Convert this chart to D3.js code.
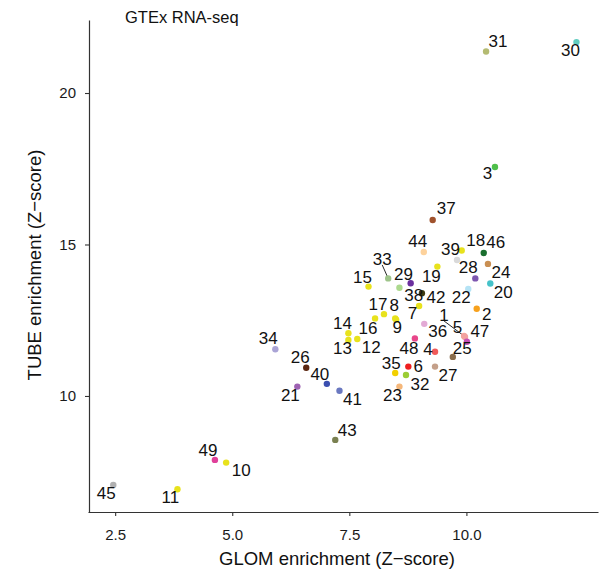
<!DOCTYPE html>
<html>
<head>
<meta charset="utf-8">
<script src="https://cdn.jsdelivr.net/npm/d3@7"></script>
<style>
  html, body { margin: 0; padding: 0; background: #fff; }
  svg { display: block; }
  text { font-family: "Liberation Sans", Arial, Helvetica, sans-serif; }
</style>
</head>
<body>
<svg id="chart" width="605" height="576"></svg>
<script>
// Enrichment of each cluster in glomerular vs tubular compartments
const clusterIds = [1,2,3,4,5,6,7,8,9,10,11,12,13,14,15,16,17,18,19,20,21,22,23,24,25,
  26,27,28,29,30,31,32,33,34,35,36,37,38,39,40,41,42,43,44,45,46,47,48,49];

const glomZ = [9.95,10.22,10.61,9.33,9.97,8.76,8.99,8.48,8.50,4.87,3.83,7.67,7.48,7.48,7.91,
  8.05,8.24,9.90,9.38,10.51,6.39,10.04,8.57,10.46,9.71,6.58,9.33,10.19,8.57,12.35,10.42,8.71,
  8.33,5.92,8.48,9.10,9.28,8.81,9.80,7.02,7.29,9.05,7.20,9.09,2.46,10.37,10.01,8.90,4.63];

const tubeZ = [11.98,12.88,17.56,11.46,11.95,10.97,12.97,12.56,12.52,7.80,6.92,11.88,11.85,12.07,13.61,
  12.56,12.70,14.80,14.27,13.71,10.31,13.53,10.31,14.36,11.29,10.93,10.97,13.88,13.57,21.68,21.37,10.69,
  13.88,11.54,10.76,12.38,15.81,13.72,14.49,10.40,10.17,13.39,8.55,14.75,7.06,14.72,11.79,11.90,7.89];

const clusterColors = ["#f4a39c","#f7a11d","#4fbf4a","#f05a5a","#f2a2a0","#ee1f1f","#e8e21c","#e8e21c",
  "#e8e21c","#e8e21c","#e8e21c","#e8e21c","#e8e21c","#e8e21c","#e8e21c","#e8e21c","#e8e21c","#e8e21c",
  "#e8e21c","#45c2c9","#9e62b2","#b5e3f5","#f5b77a","#c98f52","#8a6d4c","#5a2610","#c4a08a","#7e57b0",
  "#acd98e","#62cdc0","#b4bb72","#9bcd34","#9ec48a","#aaa4d6","#f2d000","#e3aad5","#a0522d","#6b2f9e",
  "#d9d9d9","#3a4fb0","#6a78c0","#3f3b12","#7a8050","#fdd29c","#b0b0b0","#1a6e2e","#c650b6","#e8468a",
  "#e0409a"];

const xTicks = [2.5, 5.0, 7.5, 10.0];
const yTicks = [10, 15, 20];

// label nudges (px) relative to each point, keyed by cluster id
const labelNudge = {
  1:[-20,-21.5], 2:[10,5], 3:[-7.5,6], 4:[-7,-3], 5:[-7.5,-10], 6:[10,-1], 7:[-6.5,7], 8:[-1,-14],
  9:[1,7.5], 10:[15,7], 11:[-7,8], 12:[14,8], 13:[-6,8], 14:[-6,-10], 15:[-6,-10], 16:[-7,9],
  17:[-6,-10], 18:[14,-11], 19:[-6,9], 20:[13,8], 21:[-7,8], 22:[-7,8], 23:[-7,8], 24:[13,8],
  25:[9.5,-9], 26:[-6,-11], 27:[13,8], 28:[-7,-11.5], 29:[4,-14], 30:[-6,7.5], 31:[12,-10.5],
  32:[14,9], 33:[-6,-20], 34:[-7,-11], 35:[-4,-10], 36:[13.5,7.5], 37:[13.5,-12], 38:[3,12],
  39:[-6.5,-11], 40:[-7,-10], 41:[13,8], 42:[14,3.5], 43:[12,-10], 44:[-6,-11], 45:[-7,8],
  46:[12,-11], 47:[13,-11], 48:[-6,9], 49:[-7,-10]
};
const withSegment = [33, 1];

const svg = d3.select("#chart");
const W = 605, H = 576;
svg.append("rect").attr("width", W).attr("height", H).attr("fill", "#fff");

const plotLeft = 89, plotRight = 598, plotTop = 20, plotBottom = 512;

const x = d3.scaleLinear().domain([1.92, 12.81]).range([plotLeft - 1, plotRight]);
const y = d3.scaleLinear().domain([6.17, 22.41]).range([plotBottom, plotTop]);

const points = clusterIds.map((id, i) => ({
  id, gx: glomZ[i], ty: tubeZ[i], color: clusterColors[i]
}));

// axes
const xAxis = d3.axisBottom(x).tickValues(xTicks).tickFormat(d3.format(".1f"))
  .tickSizeInner(4).tickSizeOuter(0).tickPadding(13);
const yAxis = d3.axisLeft(y).tickValues(yTicks).tickFormat(d3.format("d"))
  .tickSizeInner(4).tickSizeOuter(0).tickPadding(9);

const gx = svg.append("g").attr("transform", `translate(0,${plotBottom})`).call(xAxis);
const gy = svg.append("g").attr("transform", `translate(${plotLeft},0)`).call(yAxis);

[gx, gy].forEach(g => {
  g.select(".domain").attr("stroke", "#333").attr("stroke-width", 1.2);
  g.selectAll(".tick line").attr("stroke", "#333").attr("stroke-width", 1.1);
  g.selectAll(".tick text").attr("fill", "#1a1a1a").style("font-size", "15px")
    .style("font-family", "'Liberation Sans', Arial, sans-serif");
});

// axis titles
svg.append("text")
  .attr("x", 337).attr("y", 565)
  .attr("text-anchor", "middle")
  .style("font-size", "18.5px").attr("fill", "#111")
  .text("GLOM enrichment (Z\u2212score)");

svg.append("text")
  .attr("transform", "translate(41,265) rotate(-90)")
  .attr("text-anchor", "middle")
  .style("font-size", "18.5px").attr("fill", "#111")
  .text("TUBE enrichment (Z\u2212score)");

svg.append("text")
  .attr("x", 125).attr("y", 23)
  .style("font-size", "16.5px").attr("fill", "#111")
  .text("GTEx RNA-seq");

// leader segments
points.filter(p => withSegment.includes(p.id)).forEach(p => {
  const px = x(p.gx), py = y(p.ty);
  const [dx, dy] = labelNudge[p.id];
  const sx = px + dx, sy = py + dy + 6.5;
  const len = Math.hypot(px - sx, py - sy);
  const ex = px - (px - sx) / len * 2.5, ey = py - (py - sy) / len * 2.5;
  svg.append("line").attr("x1", sx).attr("y1", sy).attr("x2", ex).attr("y2", ey)
    .attr("stroke", "#111").attr("stroke-width", 0.9);
});

// points
svg.append("g").selectAll("circle").data(points).join("circle")
  .attr("cx", d => x(d.gx)).attr("cy", d => y(d.ty))
  .attr("r", 3.2).attr("fill", d => d.color);

// labels
svg.append("g").selectAll("text").data(points).join("text")
  .attr("x", d => x(d.gx) + labelNudge[d.id][0])
  .attr("y", d => y(d.ty) + labelNudge[d.id][1])
  .attr("dy", "0.36em")
  .attr("text-anchor", "middle")
  .style("font-size", "17px").attr("fill", "#111")
  .text(d => d.id);
</script>
</body>
</html>
